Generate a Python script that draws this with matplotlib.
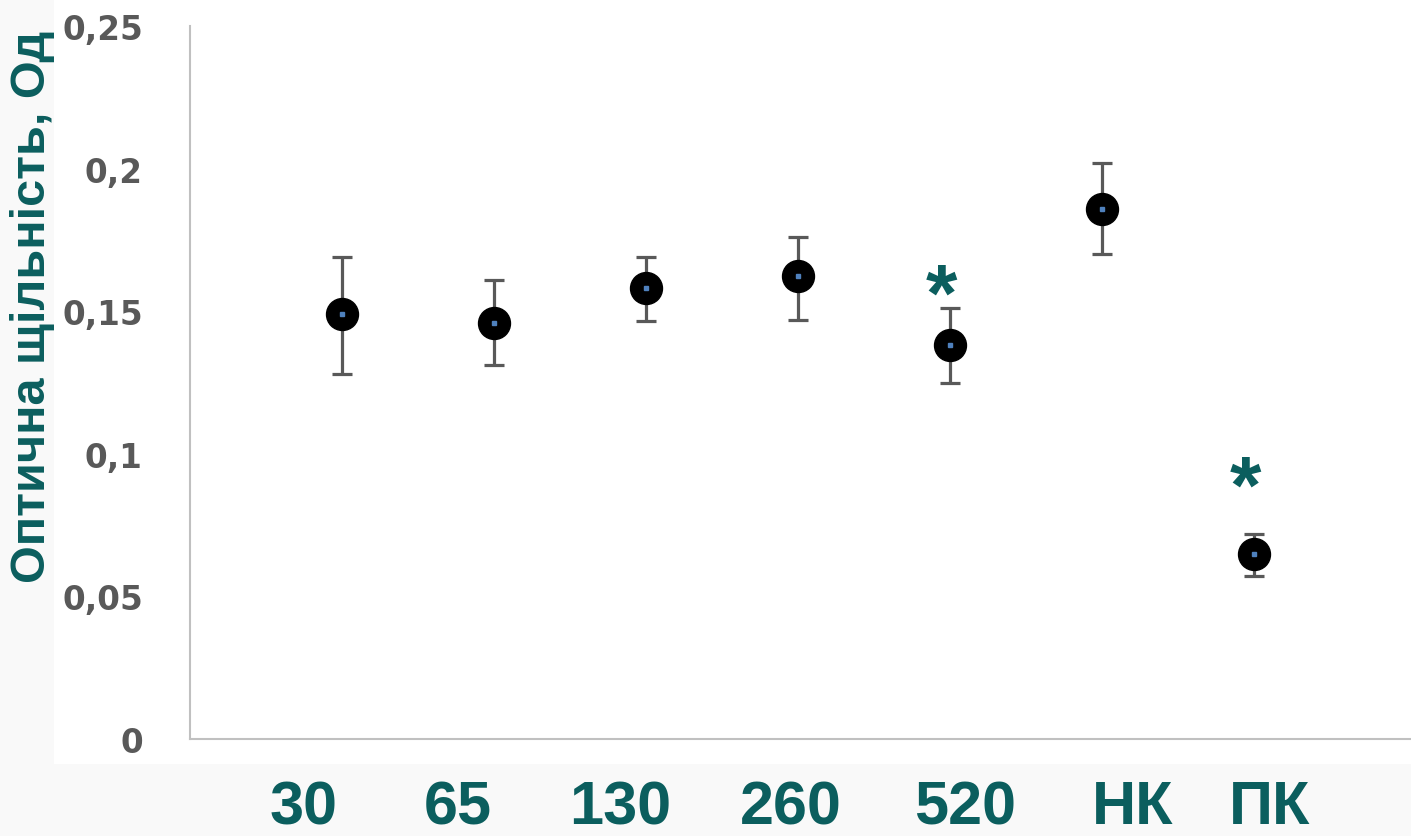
import matplotlib.pyplot as plt
from matplotlib.patches import Rectangle

# data
groups = ['30', '65', '130', '260', '520', 'НК', 'ПК']
means = [0.149, 0.146, 0.158, 0.1625, 0.138, 0.186, 0.065]
err_hi = [0.169, 0.161, 0.169, 0.176, 0.151, 0.202, 0.072]
err_lo = [0.128, 0.131, 0.1465, 0.147, 0.125, 0.170, 0.057]
starred = ['520', 'ПК']
star_y = [0.1545, 0.087]

teal = '#0b5e5e'
grey = '#595959'

fig = plt.figure(figsize=(14.11, 8.37), dpi=100, facecolor='#f9f9f9')
# white panel behind the plot
fig.patches.append(Rectangle((0.038, 0.086), 1.0, 1.0, transform=fig.transFigure,
                             facecolor='white', edgecolor='none', zorder=-5))

ax = fig.add_axes([190 / 1411, 97 / 837, 1 - 190 / 1411, 713 / 837])
ax.set_facecolor('none')
ax.set_zorder(2)

x = list(range(1, len(groups) + 1))
lo = [m - l for m, l in zip(means, err_lo)]
hi = [h - m for m, h in zip(means, err_hi)]
ax.errorbar(x, means, yerr=[lo, hi], fmt='o', color='black', markersize=23,
            ecolor=grey, elinewidth=2.3, capsize=7, capthick=2.3, zorder=3)
ax.plot(x, means, 's', color='#4f81bd', markersize=2.5, zorder=4)

for g, sy in zip(starred, star_y):
    ax.text(groups.index(g) + 1 - 0.06, sy, '*', color=teal, fontsize=58,
            fontweight='bold', family='Liberation Sans', ha='center', va='center')

ax.set_xlim(0, 8.03)
ax.set_ylim(0, 0.25)
ax.set_yticks([0, 0.05, 0.1, 0.15, 0.2, 0.25])
ax.set_yticklabels(['0', '0,05', '0,1', '0,15', '0,2', '0,25'])
ax.tick_params(axis='y', length=0, pad=34, labelsize=23.5, labelcolor=grey)
for lab in ax.get_yticklabels():
    lab.set_fontweight('bold')

# category labels sit a bit off the points in the original
label_pos = [0.75, 1.76, 2.83, 3.95, 5.1, 6.2, 7.1]
ax.set_xticks(label_pos)
ax.set_xticklabels(groups)
ax.tick_params(axis='x', length=0, pad=29, labelsize=44, labelcolor=teal)
for lab in ax.get_xticklabels():
    lab.set_fontweight('bold')
    lab.set_family('Liberation Sans')

for s in ['top', 'right']:
    ax.spines[s].set_visible(False)
for s in ['left', 'bottom']:
    ax.spines[s].set_color('#c0c0c0')
    ax.spines[s].set_linewidth(1.5)

fig.text(33 / 1411, 530 / 837, 'Оптична щільність, Од', rotation=90, color=teal,
         fontsize=35, fontweight='bold', family='Liberation Sans',
         ha='center', va='center')

plt.savefig('out.png', dpi=100, facecolor=fig.get_facecolor())
